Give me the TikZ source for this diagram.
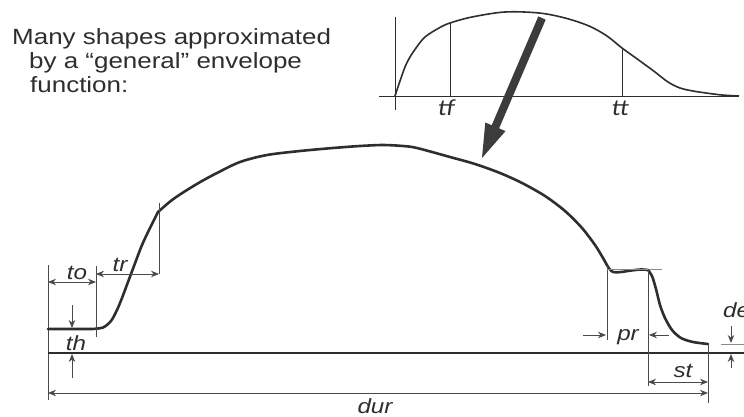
\documentclass[tikz,border=0pt]{standalone}
\usepackage{fontspec}
\setmainfont{Liberation Sans}
\newfontfamily\insetfont{Carlito}
\usetikzlibrary{arrows.meta}
\definecolor{ink}{HTML}{2E2E2E}
\definecolor{dimc}{HTML}{4A4A4A}
\definecolor{lightc}{HTML}{8A8A8A}
\definecolor{arrowc}{HTML}{3C3C3C}
\newcommand\hstretch[1]{\scalebox{1.18}[1]{#1}}
\tikzset{
  dimline/.style={draw=dimc, line width=0.9pt},
  dimarrow/.style={dimline, -{Stealth[length=8pt,width=6.5pt]}},
  dimboth/.style={dimline, {Stealth[length=8pt,width=6.5pt]}-{Stealth[length=8pt,width=6.5pt]}},
  envcurve/.style={draw=ink, line width=2.6pt, line join=round, line cap=round},
  basel/.style={draw=ink, line width=1.5pt},
  inset/.style={draw=ink, line width=1.6pt, line join=round},
  insetax/.style={draw=ink, line width=0.7pt},
  lbl/.style={text=ink, font=\fontsize{20.5}{22}\selectfont\itshape, inner sep=0pt, anchor=base},
  ilbl/.style={text=ink, font=\insetfont\fontsize{23}{25}\selectfont\itshape, inner sep=0pt, anchor=base},
  headtxt/.style={text=ink, font=\fontsize{22}{24}\selectfont, inner sep=0pt, anchor=base west},
}
\begin{document}
\begin{tikzpicture}[x=1pt,y=-1pt]
\clip (0,0) rectangle (744,417);
\useasboundingbox (0,0) rectangle (744,417);

% heading text
\node[headtxt] (h1) at (12,45) {\hstretch{Many shapes approximated}};
\node[headtxt] (h2) at (29,69) {\hstretch{by a “general” envelope}};
\node[headtxt] (h3) at (30,93) {\hstretch{function:}};

% ---------- inset ----------
\coordinate (ia0) at (395,17);
\coordinate (ia1) at (395,110);
\coordinate (ih0) at (379,96);
\coordinate (ih1) at (739,96);
\draw[insetax] (ia0) -- (ia1);
\draw[insetax] (ih0) -- (ih1);
\coordinate (tf0) at (450,23);
\coordinate (tf1) at (450,96);
\coordinate (tt0) at (622,48);
\coordinate (tt1) at (622,96);
\draw[insetax] (tf0) -- (tf1);
\draw[insetax] (tt0) -- (tt1);
\draw[inset] plot[smooth, tension=0.55] coordinates {
 (395,96) (400,81) (405,67) (410,57) (416,48) (425,37) (439,28) (450,23)
 (472,17) (505,12) (539,13) (565,18) (589,26) (607,36) (622,48)
 (640,61) (655,72) (668,82) (680,88) (693,91) (706,93) (722,95) (739,96)};
\node[ilbl] (tf) at (446,116) {\hstretch{tf}};
\node[ilbl] (tt) at (620,116) {\hstretch{tt}};

% ---------- big arrow ----------
\fill[arrowc] (545.7,19.6) -- (499.1,128.4) -- (505.5,131.1) -- (482,158)
  -- (485.3,122.5) -- (491.7,125.2) -- (538.3,16.4) -- cycle;

% ---------- main diagram ----------
\coordinate (L0) at (48,265);
\coordinate (L1) at (48,400);
\draw[dimline] (L0) -- (L1);
\coordinate (B0) at (48,353);
\coordinate (B1) at (744,353);
\draw[basel] (B0) -- (B1);

% envelope curve
\draw[envcurve] (48,329) -- (92,329)
  -- plot[smooth, tension=0.5] coordinates {(92,329) (103,327.5) (111,321) (117,310) (122,298) (128,282) (134,266) (142,245) (150,228) (158,212)}
  -- plot[smooth, tension=0.5] coordinates {(158,212) (172,200) (187,190) (202,181) (217,173) (240,162) (267,155) (300,151) (333,148) (360,146) (383,145) (403,146) (417,148) (450,157) (475,164) (500,173) (522,183) (545,196) (565,211) (582,228) (595,245) (603,258) (608,267)}
  -- plot[smooth, tension=0.5] coordinates {(608,267) (613,272) (621,272) (631,270.5) (641,269.5) (648,270)}
  -- plot[smooth, tension=0.5] coordinates {(648,270) (652,276) (656,289) (660,305) (665,318) (672,330) (681,338) (693,342) (708,344)};

% to / tr
\coordinate (to0) at (96,266);
\coordinate (to1) at (96,337);
\draw[dimline] (to0) -- (to1);
\coordinate (toA) at (48,282);
\coordinate (toB) at (96,282);
\draw[dimboth] (toA) -- (toB);
\node[lbl] (to) at (77,279) {\hstretch{to}};

\coordinate (tr0) at (159,203);
\coordinate (tr1) at (159,274);
\draw[dimline] (tr0) -- (tr1);
\coordinate (trA) at (96,274);
\draw[dimboth] (trA) -- (tr1);
\node[lbl] (tr) at (120,271) {\hstretch{tr}};

% th
\coordinate (thA0) at (72,305);
\coordinate (thA1) at (72,328);
\draw[dimarrow] (thA0) -- (thA1);
\coordinate (thB0) at (72,378);
\coordinate (thB1) at (72,354);
\draw[dimarrow] (thB0) -- (thB1);
\node[lbl] (th) at (76,350) {\hstretch{th}};

% pr
\coordinate (pr0) at (607,266);
\coordinate (pr1) at (607,340);
\draw[dimline] (pr0) -- (pr1);
\coordinate (prh0) at (607,269);
\coordinate (prh1) at (662,269);
\draw[draw=lightc, line width=0.9pt] (prh0) -- (prh1);
\coordinate (st0) at (648,269);
\coordinate (st1) at (648,386);
\draw[dimline] (st0) -- (st1);
\coordinate (prA0) at (583,335);
\coordinate (prA1) at (606,335);
\draw[dimarrow] (prA0) -- (prA1);
\coordinate (prB0) at (669,335);
\coordinate (prB1) at (649,335);
\draw[dimarrow] (prB0) -- (prB1);
\node[lbl] (pr) at (628,340) {\hstretch{pr}};

% st / end
\coordinate (e0) at (708,344);
\coordinate (e1) at (708,403);
\draw[dimline] (e0) -- (e1);
\coordinate (stA) at (648,382);
\coordinate (stB) at (708,382);
\draw[dimboth] (stA) -- (stB);
\node[lbl] (st) at (683,377) {\hstretch{st}};

% dur
\coordinate (durA) at (48,393);
\coordinate (durB) at (708,393);
\draw[dimboth] (durA) -- (durB);
\node[lbl] (dur) at (375,413) {\hstretch{dur}};

% de
\coordinate (deh0) at (721,344);
\coordinate (deh1) at (744,344);
\draw[draw=lightc, line width=0.9pt] (deh0) -- (deh1);
\coordinate (deA0) at (731,326);
\coordinate (deA1) at (731,343);
\draw[dimarrow] (deA0) -- (deA1);
\coordinate (deB0) at (731,368);
\coordinate (deB1) at (731,354);
\draw[dimarrow] (deB0) -- (deB1);
\node[lbl, anchor=base west] (de) at (723,317) {\hstretch{de}};
\end{tikzpicture}
\end{document}
